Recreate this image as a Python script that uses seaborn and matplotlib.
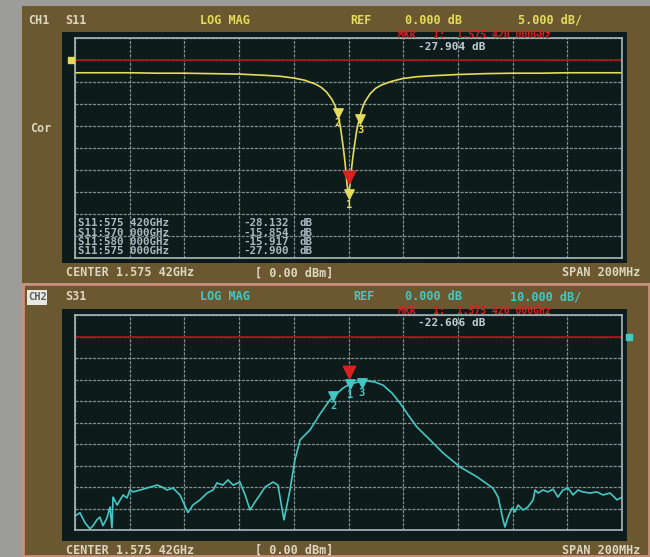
import matplotlib
matplotlib.use("Agg")
import matplotlib.pyplot as plt
import seaborn as sns
from matplotlib.patches import Rectangle

# ------------------------------
# Trace data (freq offset in MHz, level in dB)
# ------------------------------
s11_freq = [-100, -90, -80, -70, -60, -50, -40, -30, -25, -20, -16, -12, -10, -8, -6, -5, -4, -3,
            -2, -1.5, -1, -0.5, 0, 0.5, 1, 1.5, 2, 3, 4, 5, 6, 8, 10, 12, 16, 20, 25, 30, 40, 50,
            60, 70, 80, 90, 100]
s11_db = [-2.9, -2.9, -2.9, -3.0, -3.0, -3.1, -3.2, -3.5, -3.7, -4.1, -4.6, -5.5, -6.2, -7.3, -9.0,
          -10.3, -12.0, -15.0, -19.5, -22.0, -25.0, -28.5, -30.5, -28.6, -25.3, -22.6, -20.2,
          -16.0, -13.2, -11.0, -9.5, -7.6, -6.4, -5.7, -4.8, -4.2, -3.8, -3.6, -3.3, -3.1, -3.0,
          -3.0, -2.9, -2.9, -2.9]

s31_freq = [-100, -98.2, -96.3, -94.5, -93.4, -92, -90.9, -89.8, -88.3, -87.2, -86.5, -86.1,
            -84.6, -83.5, -82.4, -81, -79.9, -78.8, -76.2, -73.7, -70, -68.2, -66.4, -64.2, -61.6,
            -58.7, -56.9, -54.3, -51.7, -49.5, -48.1, -45.9, -44.1, -42.2, -39.7, -37.8, -36,
            -34.2, -32.4, -30.5, -27.6, -25.8, -23.6, -21.4, -19.6, -17.7, -14.1, -10.4, -6.8,
            -2.0, 0.5, 3.5, 6.8, 9.7, 12.6, 15.9, 18.8, 21.8, 25.0, 29.8, 34.6, 40.8, 47.0, 52.8,
            54.7, 56.5, 57.2, 58.3, 59.8, 60.9, 62.0, 63.8, 65.6, 67.5, 68.2, 69.3, 71.1, 72.9,
            74.8, 76.6, 78.4, 80.3, 82.1, 83.9, 85.7, 88.3, 90.8, 93.1, 95.6, 98.2, 100]
s31_db = [-83.5, -82, -86.7, -89.5, -88, -85.3, -84, -88, -84.4, -79.3, -89, -74.7, -78.4, -76,
          -73.7, -75.1, -71.4, -72.3, -71.4, -70.5, -69.1, -70, -71.4, -70.5, -73.7, -81.9, -78.4,
          -76, -72.8, -71.4, -68.1, -69.1, -66.7, -69.1, -67.7, -73.7, -80.7, -77, -73.7, -70,
          -67.7, -69.1, -85.3, -71.4, -57.4, -48.1, -43.5, -36, -29.5, -24.0, -22.1, -21.2,
          -20.7, -21.2, -22.6, -26.3, -30.9, -36.5, -42.1, -48.1, -54.2, -60.7, -65.3, -70.5,
          -74.7, -85.3, -88.6, -84, -79.8, -81.6, -78.4, -80.7, -79.3, -76, -71.4, -72.8, -71.4,
          -72.3, -71, -74.7, -71.4, -70.5, -73.7, -71.4, -72.3, -72.8, -72.3, -73.7, -72.8, -76,
          -74.7]

s11_mkr_freq = [0.2, -4.0, 4.2]
s11_mkr_db = [-30.5, -12.0, -13.5]
s11_mkr_names = ["1", "2", "3"]
s31_mkr_freq = [0.5, -5.5, 4.9]
s31_mkr_db = [-22.1, -27.5, -21.5]
s31_mkr_names = ["1", "2", "3"]

readout_freq = ["S11:575 420GHz", "S11:570 000GHz", "S11:580 000GHz", "S11:575 000GHz"]
readout_db = ["-28.132", "-15.854", "-15.917", "-27.900"]

# ------------------------------
# Style
# ------------------------------
sns.set_theme(style="dark")
plt.rcParams['font.family'] = ['DejaVu Sans Mono']

W, H = 650, 557
BROWN = '#6c5830'
SCREEN = '#0d1b1a'
YEL = '#e4dc5a'
CYAN = '#44c8c4'
BEIGE = '#ddd6c0'
RED = '#d82020'
GRID = '#94a4a4'

fig = plt.figure(figsize=(6.5, 5.57), dpi=100)
fig.patch.set_facecolor('#9c9c9a')


def fx(x):
    return x / W


def fy(y):
    return 1 - y / H


def box(x0, y0, x1, y1, color, **kw):
    fig.patches.append(Rectangle((fx(x0), fy(y1)), (x1 - x0) / W, (y1 - y0) / H,
                                 transform=fig.transFigure, facecolor=color, zorder=-10, **kw))


def label(x, y, s, color, size=8.5, **kw):
    fig.text(fx(x), fy(y), s, color=color, fontsize=size, fontweight='bold',
             va='center', ha=kw.pop('ha', 'left'), **kw)


# frames
box(22, 6, 650, 283, BROWN, edgecolor='none')
box(23, 284, 649, 556, BROWN, edgecolor='#c8907c', linewidth=2)
box(62, 32, 627, 263, SCREEN, edgecolor='none')
box(62, 309, 627, 541, SCREEN, edgecolor='none')


def panel(rect, freq, db, color, ylim, yticks, mfreq, mdb, mnames, red_mkr, side_x):
    ax = fig.add_axes(rect)
    ax.set_facecolor(SCREEN)
    sns.lineplot(x=freq, y=db, ax=ax, color=color, linewidth=1.2, estimator=None)
    ax.axhline(0, color='#a01818', linewidth=1.3)
    ax.set_xlim(-100, 100)
    ax.set_ylim(*ylim)
    ax.set_xticks(range(-100, 101, 20))
    ax.set_yticks(yticks)
    ax.grid(True, color=GRID, linestyle=(0, (2.5, 1)), linewidth=0.9, alpha=0.85)
    ax.tick_params(length=0, labelbottom=False, labelleft=False)
    for sp in ax.spines.values():
        sp.set_color('#a8b8b8')
        sp.set_linewidth(1.2)
    ax.set_xlabel('')
    ax.set_ylabel('')
    # markers
    ax.scatter(mfreq, mdb, marker='v', s=45, facecolor=color, edgecolor=color, zorder=5)
    ax.scatter([red_mkr[0]], [red_mkr[1]], marker='v', s=80, color=RED, zorder=6)
    for f, d, n in zip(mfreq, mdb, mnames):
        ax.annotate(n, (f, d), xytext=(0, -4), textcoords='offset points',
                    color=color, fontsize=7.5, fontweight='bold',
                    ha='center', va='top', zorder=6)
    # reference position indicator
    ax.scatter([side_x], [0], marker='s', s=14, color=color, clip_on=False, zorder=6)
    return ax


panel([fx(75), fy(258), 547 / W, 220 / H], s11_freq, s11_db, YEL, (-45, 5),
      range(-45, 6, 5), s11_mkr_freq, s11_mkr_db, s11_mkr_names, (0.2, -26.5), -101.5)
panel([fx(75), fy(530), 547 / W, 215 / H], s31_freq, s31_db, CYAN, (-90, 10),
      range(-90, 11, 10), s31_mkr_freq, s31_mkr_db, s31_mkr_names, (0.2, -16.5), 102.5)

# ------------------------------
# Screen annotations
# ------------------------------
# channel 1 header
label(28, 20, "CH1", BEIGE)
label(65, 20, "S11", BEIGE)
label(200, 20, "LOG MAG", YEL)
label(350, 20, "REF", YEL)
label(405, 20, "0.000 dB", YEL)
label(518, 20, "5.000 dB/", YEL)
label(30, 128, "Cor", BEIGE)
label(398, 35, "MKR   1:  1.575 420 000GHz", RED, size=7)
label(418, 47, "-27.904 dB", '#c0ccd0', size=8)
for i, (fr, lv) in enumerate(zip(readout_freq, readout_db)):
    label(78, 223 + i * 9.5, fr, '#aab8c0', size=7.8)
    label(243, 223 + i * 9.5, lv, '#aab8c0', size=7.8)
    label(300, 223 + i * 9.5, "dB", '#aab8c0', size=7.8)
label(66, 273, "CENTER 1.575 42GHz", BEIGE)
label(255, 273, "[ 0.00 dBm]", BEIGE)
label(640, 273, "SPAN 200MHz", BEIGE, ha='right')

# channel 2 header
box(27, 290, 47, 305, '#e8e8e4', edgecolor='none')
label(28, 297, "CH2", '#606060', size=7.5)
label(65, 297, "S31", BEIGE)
label(200, 297, "LOG MAG", CYAN)
label(353, 297, "REF", CYAN)
label(405, 297, "0.000 dB", CYAN)
label(510, 297, "10.000 dB/", CYAN)
label(398, 311, "MKR   1:  1.575 420 000GHz", RED, size=7)
label(418, 323, "-22.606 dB", '#c0ccd0', size=8)
label(66, 550, "CENTER 1.575 42GHz", BEIGE)
label(255, 550, "[ 0.00 dBm]", BEIGE)
label(640, 550, "SPAN 200MHz", BEIGE, ha='right')

fig.savefig("out.png", dpi=100, facecolor=fig.get_facecolor())
